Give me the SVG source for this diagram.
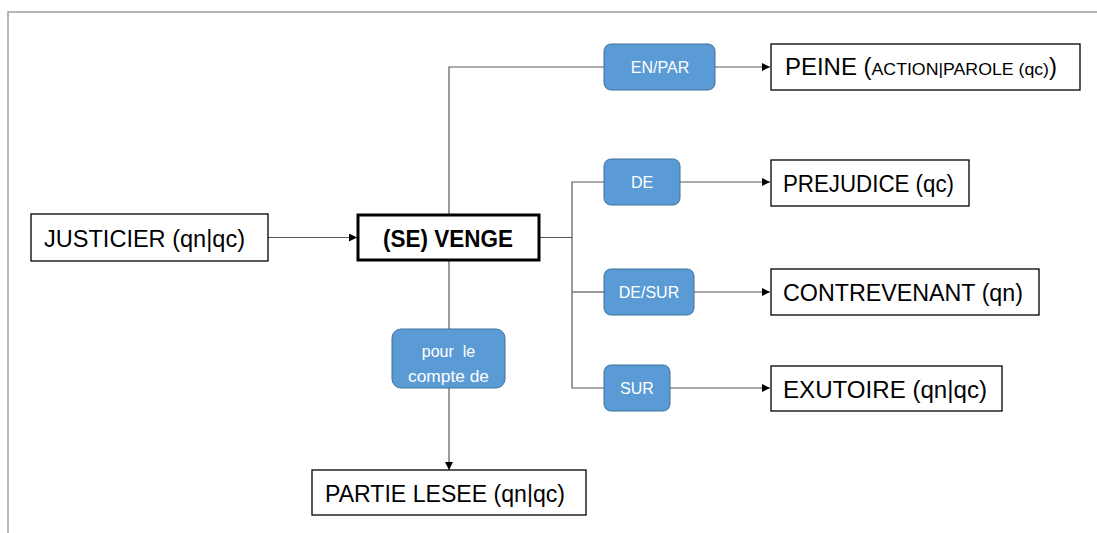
<svg xmlns="http://www.w3.org/2000/svg" width="1097" height="533" viewBox="0 0 1097 533">
<style>
.frame{fill:none;stroke:#a0a0a0;stroke-width:1.5}
.node{fill:#fff;stroke:#000;stroke-width:1.3}
.main{fill:#fff;stroke:#000;stroke-width:3}
.lab{fill:#5b9bd5;stroke:#41719c;stroke-width:1}
.t{font-family:"Liberation Sans",Arial,sans-serif;font-size:23px;fill:#000}
.ts{font-size:17px}
.tb{font-family:"Liberation Sans",Arial,sans-serif;font-size:23px;font-weight:bold;fill:#000}
.tl{font-family:"Liberation Sans",Arial,sans-serif;font-size:16px;fill:#fff;text-anchor:middle}
.c{fill:none;stroke:#595959;stroke-width:1.2}
</style>
<defs>
<marker id="ah" viewBox="0 0 10 10" refX="10" refY="5" markerWidth="8" markerHeight="8" markerUnits="userSpaceOnUse" orient="auto">
<path d="M0,0 L10,5 L0,10 z" fill="#000"/>
</marker>
</defs>
<rect width="1097" height="533" fill="#fff"/>
<path class="frame" d="M8,533 V12 H1097"/>
<g id="connectors">
<path class="c" d="M268,237.5 H357" marker-end="url(#ah)"/>
<path class="c" d="M449,214 V67 H604"/>
<path class="c" d="M715,67 H770" marker-end="url(#ah)"/>
<path class="c" d="M539,237.5 H572"/>
<path class="c" d="M604,182 H572 V388 H604"/>
<path class="c" d="M572,292 H604"/>
<path class="c" d="M680,182 H770" marker-end="url(#ah)"/>
<path class="c" d="M694,292 H770" marker-end="url(#ah)"/>
<path class="c" d="M670,388 H770" marker-end="url(#ah)"/>
<path class="c" d="M449,261 V329"/>
<path class="c" d="M449,388 V470" marker-end="url(#ah)"/>
</g>
<g id="justicier">
<rect class="node" x="31" y="214" width="237" height="47"/>
<text class="t" x="44" y="247" textLength="201" lengthAdjust="spacingAndGlyphs">JUSTICIER (qn|qc)</text>
</g>
<g id="venge">
<rect class="main" x="358" y="215" width="181" height="45"/>
<text class="tb" x="383" y="247" textLength="130" lengthAdjust="spacingAndGlyphs">(SE) VENGE</text>
</g>
<g id="peine">
<rect class="node" x="771" y="44" width="309" height="46"/>
<text class="t" x="785" y="75" textLength="272" lengthAdjust="spacingAndGlyphs">PEINE (<tspan class="ts">ACTION|PAROLE (qc)</tspan>)</text>
</g>
<g id="prejudice">
<rect class="node" x="771" y="160" width="198" height="46"/>
<text class="t" x="783" y="192" textLength="171" lengthAdjust="spacingAndGlyphs">PREJUDICE (qc)</text>
</g>
<g id="contrevenant">
<rect class="node" x="771" y="269" width="268" height="46"/>
<text class="t" x="783" y="301" textLength="240" lengthAdjust="spacingAndGlyphs">CONTREVENANT (qn)</text>
</g>
<g id="exutoire">
<rect class="node" x="771" y="366" width="231" height="45"/>
<text class="t" x="783" y="398" textLength="204" lengthAdjust="spacingAndGlyphs">EXUTOIRE (qn|qc)</text>
</g>
<g id="partie">
<rect class="node" x="312" y="470" width="274" height="45"/>
<text class="t" x="325" y="502" textLength="240" lengthAdjust="spacingAndGlyphs">PARTIE LESEE (qn|qc)</text>
</g>
<g id="l-enpar">
<rect class="lab" x="604" y="44" width="111" height="46" rx="7"/>
<text class="tl" x="660" y="73">EN/PAR</text>
</g>
<g id="l-de">
<rect class="lab" x="604" y="159" width="76" height="46" rx="7"/>
<text class="tl" x="642" y="188">DE</text>
</g>
<g id="l-desur">
<rect class="lab" x="604" y="269" width="90" height="46" rx="7"/>
<text class="tl" x="649" y="298">DE/SUR</text>
</g>
<g id="l-sur">
<rect class="lab" x="604" y="365" width="66" height="46" rx="7"/>
<text class="tl" x="637" y="394">SUR</text>
</g>
<g id="l-pour">
<rect class="lab" x="392" y="329" width="113" height="59" rx="9"/>
<text class="tl" x="448.5" y="357" style="white-space:pre">pour  le</text>
<text class="tl" x="448.5" y="382" textLength="81" lengthAdjust="spacingAndGlyphs">compte de</text>
</g>
</svg>
